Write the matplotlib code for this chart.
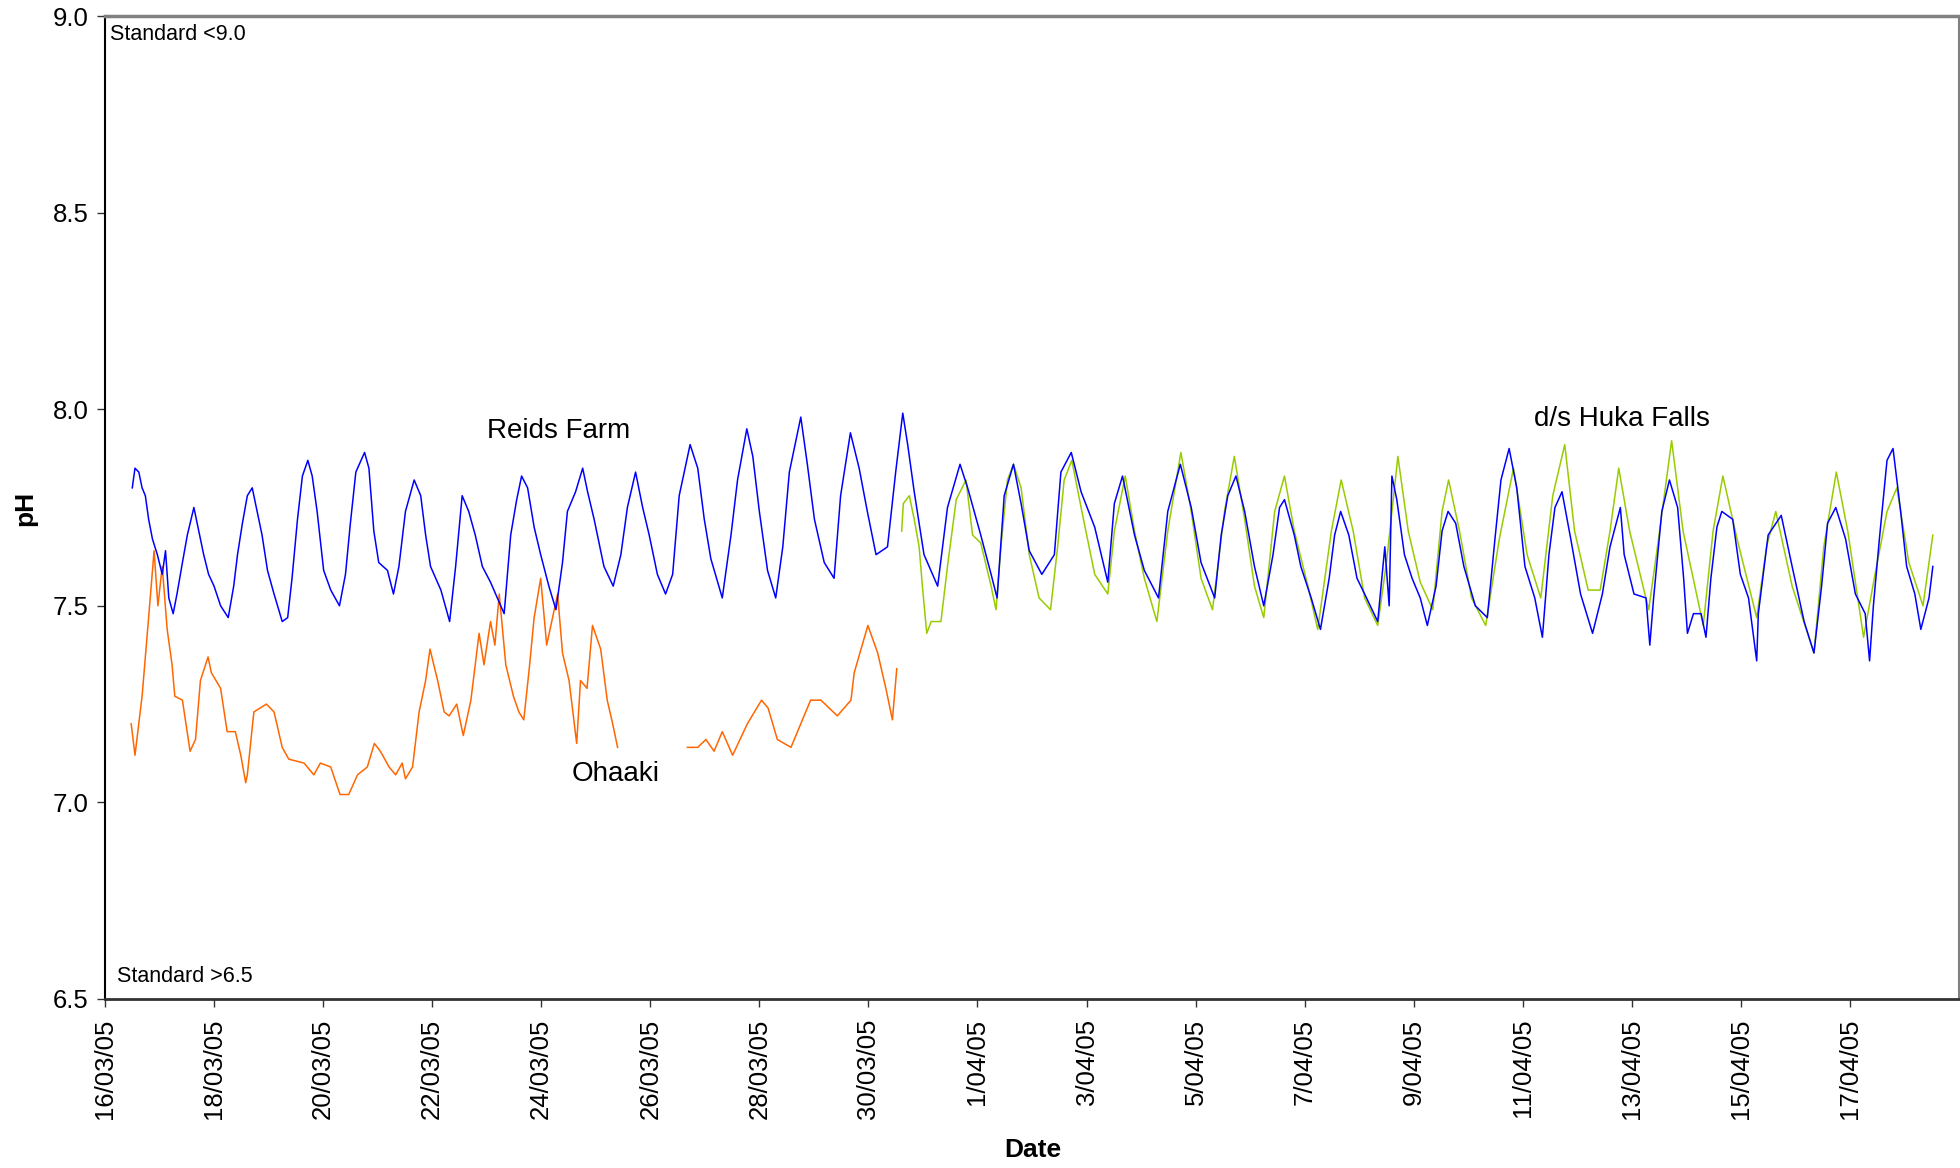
import matplotlib
matplotlib.use("Agg")
import matplotlib.pyplot as plt
import numpy as np

# x values: days since 16/03/05 00:00
tick_days = list(range(0, 33, 2))
tick_labels = ["16/03/05", "18/03/05", "20/03/05", "22/03/05", "24/03/05", "26/03/05",
               "28/03/05", "30/03/05", "1/04/05", "3/04/05", "5/04/05", "7/04/05",
               "9/04/05", "11/04/05", "13/04/05", "15/04/05", "17/04/05"]

reids_days = [0.50, 0.55, 0.62, 0.68, 0.74, 0.80, 0.87, 0.96, 1.05, 1.11, 1.17, 1.25, 1.32, 1.42,
              1.51, 1.63, 1.72, 1.81, 1.90, 2.00, 2.12, 2.26, 2.36, 2.43, 2.52, 2.61, 2.70, 2.79,
              2.88, 2.98, 3.10, 3.25, 3.35, 3.43, 3.53, 3.62, 3.72, 3.80, 3.89, 4.01, 4.14, 4.30,
              4.41, 4.50, 4.60, 4.76, 4.84, 4.93, 5.02, 5.18, 5.29, 5.39, 5.51, 5.67, 5.79, 5.88,
              5.97, 6.16, 6.32, 6.43, 6.55, 6.67, 6.79, 6.92, 7.07, 7.32, 7.44, 7.55, 7.64, 7.75,
              7.87, 7.99, 8.14, 8.27, 8.39, 8.48, 8.63, 8.76, 8.85, 8.97, 9.06, 9.15, 9.32, 9.46,
              9.58, 9.73, 9.86, 9.98, 10.13, 10.28, 10.41, 10.53, 10.73, 10.87, 10.99, 11.11, 11.32,
              11.48, 11.60, 11.77, 11.88, 12.00, 12.15, 12.30, 12.43, 12.55, 12.76, 12.88, 13.01,
              13.19, 13.37, 13.49, 13.67, 13.83, 13.98, 14.14, 14.35, 14.50, 14.63, 14.72, 14.84,
              15.02, 15.27, 15.45, 15.68, 15.82, 16.06, 16.25, 16.36, 16.49, 16.66, 16.80, 16.95,
              17.18, 17.41, 17.53, 17.72, 17.90, 18.15, 18.39, 18.51, 18.66, 18.88, 19.06, 19.32,
              19.49, 19.72, 19.92, 20.10, 20.35, 20.47, 20.59, 20.74, 20.90, 21.08, 21.25, 21.42,
              21.54, 21.63, 21.81, 21.93, 22.12, 22.29, 22.45, 22.55, 22.66, 22.81, 22.96, 23.10,
              23.34, 23.47, 23.55, 23.60, 23.69, 23.83, 23.97, 24.12, 24.25, 24.41, 24.52, 24.63,
              24.77, 24.92, 25.13, 25.35, 25.49, 25.60, 25.75, 25.89, 26.04, 26.22, 26.36, 26.48,
              26.59, 26.72, 26.88, 27.06, 27.28, 27.46, 27.60, 27.79, 27.86, 28.04, 28.26, 28.33,
              28.40, 28.55, 28.69, 28.84, 28.95, 29.02, 29.13, 29.27, 29.36, 29.45, 29.56, 29.65,
              29.85, 29.99, 30.14, 30.29, 30.32, 30.50, 30.74, 30.94, 31.16, 31.34, 31.48, 31.59,
              31.74, 31.92, 32.10, 32.28, 32.36, 32.43, 32.54, 32.68, 32.79, 32.93, 33.04, 33.19,
              33.30, 33.45, 33.52]
reids_ph = [7.80, 7.85, 7.84, 7.80, 7.78, 7.72, 7.67, 7.63, 7.58, 7.64, 7.52, 7.48, 7.53, 7.61,
            7.68, 7.75, 7.69, 7.63, 7.58, 7.55, 7.50, 7.47, 7.55, 7.63, 7.71, 7.78, 7.80, 7.74,
            7.68, 7.59, 7.53, 7.46, 7.47, 7.57, 7.72, 7.83, 7.87, 7.83, 7.74, 7.59, 7.54, 7.50,
            7.58, 7.71, 7.84, 7.89, 7.85, 7.69, 7.61, 7.59, 7.53, 7.60, 7.74, 7.82, 7.78, 7.68,
            7.60, 7.54, 7.46, 7.60, 7.78, 7.74, 7.68, 7.60, 7.56, 7.48, 7.68, 7.77, 7.83, 7.80,
            7.70, 7.63, 7.55, 7.49, 7.61, 7.74, 7.79, 7.85, 7.79, 7.72, 7.66, 7.60, 7.55, 7.63,
            7.75, 7.84, 7.75, 7.68, 7.58, 7.53, 7.58, 7.78, 7.91, 7.85, 7.72, 7.62, 7.52,
            7.68, 7.82, 7.95, 7.88, 7.74, 7.59, 7.52, 7.65, 7.84, 7.98, 7.86, 7.72,
            7.61, 7.57, 7.78, 7.94, 7.85, 7.74, 7.63, 7.65, 7.84, 7.99, 7.91, 7.79,
            7.63, 7.55, 7.75, 7.86, 7.80, 7.68, 7.58, 7.52, 7.78, 7.86, 7.76, 7.64,
            7.58, 7.63, 7.84, 7.89, 7.79, 7.70, 7.56, 7.76, 7.83, 7.68, 7.59, 7.52,
            7.74, 7.86, 7.75, 7.61, 7.52, 7.68, 7.78, 7.83, 7.74, 7.60, 7.50, 7.63,
            7.75, 7.77, 7.68, 7.60, 7.52, 7.44, 7.57, 7.68, 7.74, 7.68, 7.57, 7.53,
            7.46, 7.65, 7.50, 7.83, 7.77, 7.63, 7.57, 7.52, 7.45, 7.55, 7.69, 7.74,
            7.71, 7.60, 7.50, 7.47, 7.67, 7.82, 7.90, 7.80, 7.60, 7.52, 7.42, 7.63,
            7.75, 7.79, 7.67, 7.53, 7.43, 7.53, 7.65, 7.75, 7.63, 7.53, 7.52, 7.40,
            7.52, 7.74, 7.82, 7.75, 7.57, 7.43, 7.48, 7.48, 7.42, 7.57, 7.70, 7.74,
            7.72, 7.58, 7.52, 7.36, 7.48, 7.68, 7.73, 7.60, 7.46, 7.38, 7.55, 7.71,
            7.75, 7.67, 7.53, 7.48, 7.36, 7.50, 7.67, 7.87, 7.90, 7.74, 7.60, 7.53,
            7.44, 7.52, 7.60]

# np.nan marks the gap in the Ohaaki record (26-27 March)
ohaaki_days = [0.48, 0.55, 0.68, 0.80, 0.90, 0.97, 1.05, 1.14, 1.23, 1.28, 1.42, 1.56, 1.66, 1.75,
               1.89, 1.95, 2.12, 2.24, 2.39, 2.49, 2.58, 2.61, 2.73, 2.96, 3.10, 3.25, 3.37, 3.65,
               3.83, 3.95, 4.14, 4.31, 4.47, 4.63, 4.81, 4.94, 5.05, 5.21, 5.33, 5.45, 5.51, 5.64,
               5.76, 5.88, 5.96, 6.10, 6.22, 6.31, 6.45, 6.57, 6.71, 6.86, 6.95, 7.07, 7.15, 7.23,
               7.35, 7.49, 7.59, 7.68, 7.78, 7.87, 7.99, 8.10, 8.30, 8.39, 8.51, 8.65, 8.72, 8.84,
               8.94, 9.09, 9.21, 9.31, 9.40, 10.0,
               10.68, 10.87, 11.02, 11.17, 11.32, 11.51, 11.78, 12.04, 12.16, 12.33, 12.58, 12.76,
               12.94, 13.13, 13.43, 13.68, 13.74, 13.99, 14.17, 14.32, 14.44, 14.52]
ohaaki_ph = [7.20, 7.12, 7.27, 7.47, 7.64, 7.50, 7.60, 7.44, 7.35, 7.27, 7.26, 7.13, 7.16, 7.31,
             7.37, 7.33, 7.29, 7.18, 7.18, 7.12, 7.05, 7.07, 7.23, 7.25, 7.23, 7.14, 7.11, 7.10,
             7.07, 7.10, 7.09, 7.02, 7.02, 7.07, 7.09, 7.15, 7.13, 7.09, 7.07, 7.10, 7.06, 7.09,
             7.23, 7.31, 7.39, 7.31, 7.23, 7.22, 7.25, 7.17, 7.26, 7.43, 7.35, 7.46, 7.40, 7.53,
             7.35, 7.27, 7.23, 7.21, 7.34, 7.47, 7.57, 7.40, 7.53, 7.38, 7.31, 7.15, 7.31, 7.29,
             7.45, 7.39, 7.26, 7.20, 7.14, np.nan,
             7.14, 7.14, 7.16, 7.13, 7.18, 7.12, 7.20, 7.26, 7.24, 7.16, 7.14, 7.20,
             7.26, 7.26, 7.22, 7.26, 7.33, 7.45, 7.38, 7.29, 7.21, 7.34]

huka_days = [14.61, 14.64, 14.75, 14.84, 14.93, 14.99, 15.07, 15.15, 15.33, 15.45, 15.61, 15.79,
             15.91, 16.06, 16.25, 16.34, 16.43, 16.55, 16.66, 16.80, 16.95, 17.13, 17.34, 17.47,
             17.59, 17.73, 17.90, 18.15, 18.39, 18.51, 18.71, 18.88, 19.06, 19.29, 19.49, 19.73,
             19.92, 20.10, 20.31, 20.53, 20.71, 20.90, 21.08, 21.25, 21.45, 21.63, 21.81, 22.06,
             22.24, 22.49, 22.67, 22.89, 23.10, 23.34, 23.50, 23.71, 23.90, 24.12, 24.35, 24.52,
             24.64, 24.84, 25.06, 25.32, 25.57, 25.83, 26.08, 26.33, 26.55, 26.77, 26.95, 27.20,
             27.42, 27.60, 27.76, 27.96, 28.31, 28.47, 28.73, 28.94, 29.31, 29.49, 29.67, 29.93,
             30.29, 30.47, 30.64, 30.94, 31.34, 31.52, 31.75, 31.96, 32.25, 32.46, 32.68, 32.86,
             33.08, 33.34, 33.52]
huka_ph = [7.69, 7.76, 7.78, 7.72, 7.65, 7.55, 7.43, 7.46, 7.46, 7.60, 7.77, 7.82,
           7.68, 7.66, 7.55, 7.49, 7.65, 7.82, 7.86, 7.80, 7.63, 7.52, 7.49, 7.65,
           7.82, 7.87, 7.75, 7.58, 7.53, 7.69, 7.83, 7.69, 7.57, 7.46, 7.69, 7.89,
           7.74, 7.57, 7.49, 7.74, 7.88, 7.72, 7.55, 7.47, 7.74, 7.83, 7.69, 7.55,
           7.44, 7.69, 7.82, 7.69, 7.52, 7.45, 7.61, 7.88, 7.69, 7.56, 7.49, 7.74,
           7.82, 7.69, 7.52, 7.45, 7.67, 7.85, 7.63, 7.52, 7.78, 7.91, 7.69, 7.54,
           7.54, 7.69, 7.85, 7.69, 7.49, 7.65, 7.92, 7.69, 7.45, 7.69, 7.83, 7.67,
           7.47, 7.65, 7.74, 7.55, 7.38, 7.65, 7.84, 7.69, 7.42, 7.58, 7.74, 7.80,
           7.61, 7.50, 7.68]

plt.rcParams['font.family'] = ['Liberation Sans', 'DejaVu Sans']

W, H = 1960, 1168
fig = plt.figure(figsize=(W / 100, H / 100), dpi=100)
ax = fig.add_axes([105 / W, 169 / H, 1854 / W, 983 / H])

ax.plot(ohaaki_days, ohaaki_ph, color='#FF6600', lw=1.1)
ax.plot(huka_days, huka_ph, color='#99CC00', lw=1.1)
ax.plot(reids_days, reids_ph, color='#0000FF', lw=1.1)

ax.set_xlim(0, 34)
ax.set_ylim(6.5, 9.0)
ax.set_yticks([6.5, 7.0, 7.5, 8.0, 8.5, 9.0])
ax.set_yticklabels(["6.5", "7.0", "7.5", "8.0", "8.5", "9.0"], fontsize=18.5)
ax.set_xticks(tick_days)
ax.set_xticklabels(tick_labels, rotation=90, fontsize=18.5)
ax.tick_params(axis='both', direction='out', length=6, width=1, color='#333333')
ax.tick_params(axis='x', pad=8)
ax.tick_params(axis='y', pad=6)

for side in ['top', 'right']:
    ax.spines[side].set_color('#808080')
ax.spines['top'].set_linewidth(2.5)
ax.spines['right'].set_linewidth(1.5)
ax.spines['left'].set_color('black')
ax.spines['left'].set_linewidth(1.5)
ax.spines['bottom'].set_color('#333333')
ax.spines['bottom'].set_linewidth(2.0)


def ptext(x, y, s, **kw):
    fig.text(x / W, 1 - y / H, s, **kw)


ptext(1033, 1150, "Date", fontsize=19, fontweight='bold', ha='center', va='center')
ptext(25, 508, "pH", fontsize=19, fontweight='bold', ha='center', va='center', rotation=90)

ptext(559, 431, "Reids Farm", fontsize=20, ha='center', va='center')
ptext(616, 774, "Ohaaki", fontsize=20, ha='center', va='center')
ptext(1622, 419, "d/s Huka Falls", fontsize=20, ha='center', va='center')
ptext(110, 34, "Standard <9.0", fontsize=15.5, ha='left', va='center')
ptext(117, 977, "Standard >6.5", fontsize=15.5, ha='left', va='center')

fig.savefig("out.png", dpi=100)
